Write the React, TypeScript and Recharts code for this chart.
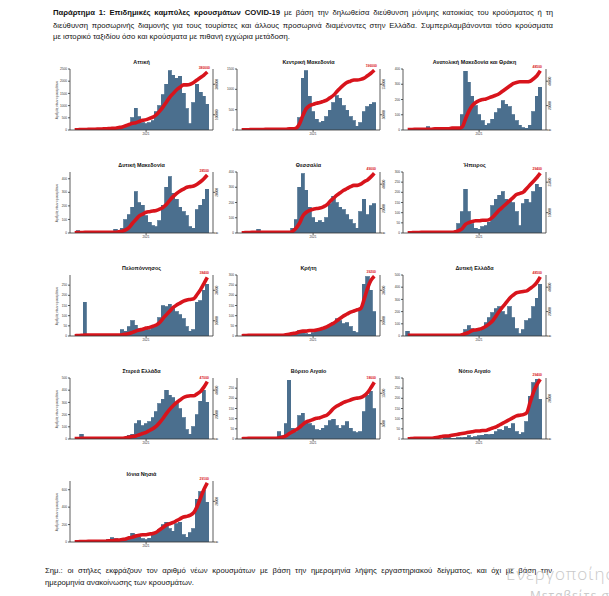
import React from 'react';
import { ComposedChart, Bar, Line, XAxis, YAxis } from 'recharts';

// half-month periods
const periods = [
  '2020-02b','2020-03a','2020-03b','2020-04a','2020-04b','2020-05a','2020-05b','2020-06a','2020-06b','2020-07a',
  '2020-07b','2020-08a','2020-08b','2020-09a','2020-09b','2020-10a','2020-10b','2020-11a','2020-11b','2020-12a',
  '2020-12b','2021-01a','2021-01b','2021-02a','2021-02b','2021-03a','2021-03b','2021-04a','2021-04b','2021-05a',
  '2021-05b','2021-06a','2021-06b','2021-07a','2021-07b','2021-08a','2021-08b','2021-09a','2021-09b','2021-10a',
];
const xTicks = ['2021-01a'];
const xTickLabels: Record<string, string> = { '2021-01a': '2021' };

const atticaDaily = [0,20,25,5,0,0,0,0,0,0,5,25,50,75,100,200,225,500,900,550,300,250,300,375,750,1000,1450,1875,2425,2250,2125,2200,1500,875,250,1125,1875,1550,1375,1050];
const atticaCum = [1000,2000,3000,3500,4000,4500,5000,6000,7000,8000,9000,11000,12000,16000,20000,28000,36000,44000,48000,56000,64000,68000,76000,84000,100000,124000,152000,184000,216000,240000,264000,280000,296000,296000,300000,312000,328000,344000,360000,380000];

const kmakDaily = [0,0,0,0,0,0,0,0,0,0,0,0,15,15,15,30,45,300,1275,1455,825,450,270,180,210,330,480,675,840,780,600,480,330,225,90,180,450,570,630,675];
const kmakCum = [500,800,1000,1200,1400,1600,1800,2000,2000,2000,2000,2000,2000,2000,4000,4000,6000,20000,48000,70000,80000,84000,88000,90000,94000,98000,106000,114000,126000,138000,148000,156000,160000,164000,164000,166000,170000,178000,186000,196000];

const amthDaily = [0,0,0,0,0,0,20,8,4,4,12,8,4,4,4,4,100,384,312,220,160,100,60,32,40,72,112,140,192,168,152,100,60,32,16,12,32,120,220,280];
const amthCum = [300,400,500,500,500,500,500,500,1000,1000,1000,1000,1000,1500,1500,1500,2500,9000,15500,20000,22500,24000,25000,25500,26500,27500,28500,30000,32000,34000,36000,38000,39000,39500,39500,39500,40000,42000,44500,48500];

const dmakDaily = [0,18,0,0,0,0,0,0,0,0,0,0,27,9,36,99,135,189,306,225,203,126,81,54,45,90,203,338,414,293,248,189,158,126,45,36,171,203,248,324];
const dmakCum = [150,200,250,300,300,300,300,300,300,300,300,300,300,600,900,1500,2700,4800,6600,8400,9300,10200,10500,10800,11100,11700,12600,14100,16200,18000,19500,20700,21600,22500,22800,23100,24000,25200,26700,28500];

const thesDaily = [0,0,0,0,0,24,0,0,4,0,0,4,4,4,12,32,88,300,388,280,168,100,72,80,72,100,192,240,200,168,152,120,88,60,32,140,220,120,180,192];
const thesCum = [200,300,400,500,500,500,500,500,500,500,500,500,500,500,500,1500,4000,8000,14000,17000,18500,19500,20000,20500,21500,23000,26000,28500,31000,33000,35000,36500,38000,39000,39000,40000,42000,43500,46000,49000];

const epirDaily = [0,0,0,0,0,0,0,0,0,0,0,3,0,3,9,45,105,216,105,45,24,18,30,36,54,135,165,186,204,165,156,150,105,36,144,165,150,204,240,225];
const epirCum = [100,150,200,250,300,300,300,300,300,300,300,300,300,300,600,1200,2100,4200,5100,5700,6000,6000,6300,6300,6600,7800,9600,11400,12900,14400,15900,17400,18900,19500,20100,21900,23700,25500,27300,29400];

const pelDaily = [0,0,0,165,0,0,0,0,0,0,0,0,0,3,30,24,45,75,54,36,30,36,30,42,48,90,150,144,156,135,120,105,84,45,24,30,165,174,225,255];
const pelCum = [200,300,400,600,600,600,600,600,600,600,600,600,600,600,800,1200,1600,2400,3200,4000,4400,5200,5600,6400,7200,8800,11600,14000,16400,18800,20400,21600,22800,23600,24000,24400,27200,30400,34400,38400];

const creDaily = [0,0,0,0,0,0,0,0,0,0,0,0,0,0,0,3,12,27,24,12,9,15,24,30,36,45,54,66,84,75,60,66,45,24,15,135,255,291,225,120];
const creCum = [200,300,400,400,400,400,400,400,400,400,400,400,400,800,1200,1600,2000,2800,3200,3200,3600,3600,4000,4400,5200,6000,7200,8400,10000,11600,13200,14400,15600,16400,17200,18000,24000,31200,36400,39200];

const dellDaily = [40,0,0,0,0,0,0,0,0,0,0,0,0,0,0,0,0,50,85,60,50,40,60,110,150,190,225,240,200,175,240,150,60,20,50,125,140,240,310,425];
const dellCum = [500,500,500,500,500,500,500,500,500,500,500,500,500,500,500,500,1000,2000,3000,4500,5000,5500,6500,8000,10000,12500,16500,20500,24000,27500,31000,33500,35500,36000,36500,37000,39000,41000,44000,48500];

const sterDaily = [0,0,40,10,0,0,0,0,0,0,0,0,0,0,0,10,30,40,125,150,110,125,140,175,225,290,325,400,360,340,300,250,175,75,40,100,200,310,400,300];
const sterCum = [300,400,500,500,500,500,500,500,500,500,500,500,500,500,500,1000,1500,2000,2500,3500,4500,5500,7000,8500,10500,13500,17000,21000,24500,27500,30000,32000,34000,35000,35500,35500,37000,39000,42500,47000];

const vaigDaily = [0,0,0,0,0,0,0,0,0,0,0,36,15,75,288,54,36,114,126,84,75,66,45,42,54,66,90,96,66,54,66,84,54,36,30,36,135,216,234,150];
const vaigCum = [100,150,200,200,200,200,200,200,200,200,200,400,600,1000,1800,2400,3000,3800,4800,5600,6000,6400,6800,7000,7400,7800,8800,10000,10800,11400,12000,12400,12800,13200,13400,13600,14200,15200,16800,18600];

const naigDaily = [0,0,0,0,0,0,0,0,0,0,0,12,15,3,3,6,6,9,15,9,12,15,18,24,21,24,36,45,42,60,54,75,36,24,30,84,210,276,294,195];
const naigCum = [100,200,300,300,300,300,300,300,600,900,1200,1500,1500,1800,2100,2400,2700,3000,3300,3600,3900,3900,4200,4200,4800,5400,6000,6900,7800,8700,9600,10500,11400,11700,12000,12900,18000,23100,26700,29400];

const ionDaily = [0,0,0,0,0,0,0,0,0,0,28,49,35,28,35,28,42,98,84,56,35,28,42,84,105,140,196,224,154,126,210,224,84,56,105,154,490,574,595,455];
const ionCum = [100,150,200,250,300,300,300,300,300,300,600,600,900,900,1200,1500,2100,2400,3000,3300,3600,3600,3900,4200,4800,6000,7200,8400,9000,9600,10500,11400,12300,12600,13200,14400,17400,21600,25800,29100];

const regionTitles = [
  'Αττική', 'Κεντρική Μακεδονία', 'Ανατολική Μακεδονία και Θράκη',
  'Δυτική Μακεδονία', 'Θεσσαλία', 'Ήπειρος',
  'Πελοπόννησος', 'Κρήτη', 'Δυτική Ελλάδα',
  'Στερεά Ελλάδα', 'Βόρειο Αιγαίο', 'Νότιο Αιγαίο',
  'Ιόνια Νησιά',
];

const panels = [
  { daily: atticaDaily, cum: atticaCum, dTop: 2500, dTicks: [0,500,1000,1500,2000,2500], cTop: 400000, cTicks: [0,100000,200000,300000] },
  { daily: kmakDaily, cum: kmakCum, dTop: 1500, dTicks: [0,500,1000,1500], cTop: 200000, cTicks: [0,50000,100000,150000] },
  { daily: amthDaily, cum: amthCum, dTop: 400, dTicks: [0,100,200,300,400], cTop: 50000, cTicks: [0,10000,20000,30000,40000] },
  { daily: dmakDaily, cum: dmakCum, dTop: 450, dTicks: [0,100,200,300,400], cTop: 30000, cTicks: [0,10000,20000] },
  { daily: thesDaily, cum: thesCum, dTop: 400, dTicks: [0,100,200,300,400], cTop: 50000, cTicks: [0,10000,20000,30000,40000] },
  { daily: epirDaily, cum: epirCum, dTop: 300, dTicks: [0,50,100,150,200,250,300], cTop: 30000, cTicks: [0,5000,10000,15000,20000,25000] },
  { daily: pelDaily, cum: pelCum, dTop: 300, dTicks: [0,50,100,150,200,250], cTop: 40000, cTicks: [0,10000,20000,30000] },
  { daily: creDaily, cum: creCum, dTop: 300, dTicks: [0,50,100,150,200,250,300], cTop: 40000, cTicks: [0,10000,20000,30000] },
  { daily: dellDaily, cum: dellCum, dTop: 500, dTicks: [0,100,200,300,400,500], cTop: 50000, cTicks: [0,10000,20000,30000,40000] },
  { daily: sterDaily, cum: sterCum, dTop: 500, dTicks: [0,100,200,300,400,500], cTop: 50000, cTicks: [0,10000,20000,30000,40000] },
  { daily: vaigDaily, cum: vaigCum, dTop: 300, dTicks: [0,50,100,150,200,250], cTop: 20000, cTicks: [0,5000,10000,15000] },
  { daily: naigDaily, cum: naigCum, dTop: 300, dTicks: [0,50,100,150,200,250,300], cTop: 30000, cTicks: [0,10000,20000] },
  { daily: ionDaily, cum: ionCum, dTop: 700, dTicks: [0,100,200,300,400,500,600], cTop: 30000, cTicks: [0,10000,20000] },
];

const colLeft = [70, 237, 403];
const rowTitle = [62, 165, 268, 371, 474];
const PLOT_W = 143;
const PLOT_H = 61;
const LEFT_W = 16;
const RIGHT_W = 14;
const XAX_H = 14;
const TOP_M = 8;
const PAD_L = 3;
const PAD_R = 4;
const BAND_W = (PLOT_W - PAD_L - PAD_R) / periods.length;
const BAR_COLOR = '#4b6f8e';
const LINE_COLOR = '#d8141c';
const FONT = '"Liberation Sans", Arial, sans-serif';

const RightTick = (props: any) => {
  const { x, y, payload } = props;
  const tx = x + 2;
  return (
    <text x={tx} y={y} transform={`rotate(-90 ${tx} ${y})`} textAnchor="middle" fontSize={3.2} fill="#333" fontFamily={FONT}>
      {payload.value}
    </text>
  );
};

// bar drawn across its whole band (histogram look), centred on the library's bar position
function BarShape(props: any) {
  const { x, y, width, height } = props;
  if (!height || height <= 0) return <g />;
  const cx = Number(x) + Number(width) / 2;
  return (
    <rect
      x={cx - BAND_W / 2}
      y={y}
      width={BAND_W}
      height={height}
      fill={BAR_COLOR}
      stroke={BAR_COLOR}
      strokeWidth={0.8}
      shapeRendering="crispEdges"
    />
  );
}

function Panel({ idx }: { idx: number }) {
  const p = panels[idx];
  const col = idx % 3;
  const row = Math.floor(idx / 3);
  const L = colLeft[col];
  const tY = rowTitle[row];
  const plotTop = tY + 7;
  const last = periods.length - 1;
  const data = periods.map((period, i) => ({ period, daily: p.daily[i], cum: p.cum[i] }));
  const endLabel = (lp: any) => {
    const x = lp.x ?? lp.viewBox?.x;
    const y = lp.y ?? lp.viewBox?.y;
    if (lp.index !== undefined ? lp.index !== last : lp.value !== p.cum[last]) return null;
    return (
      <text x={x - 3} y={y - 3} fontSize={3.4} fill={LINE_COLOR} fontWeight="bold" textAnchor="middle" fontFamily={FONT}>
        {p.cum[last]}
      </text>
    );
  };
  return (
    <>
      <div style={{ position: 'absolute', left: L, top: tY - 4, width: PLOT_W, textAlign: 'center', fontSize: 5.4, lineHeight: '8px', fontWeight: 'bold', whiteSpace: 'nowrap', color: '#111' }}>
        {regionTitles[idx]}
      </div>
      {col === 0 && (
        <div style={{ position: 'absolute', left: 57 - 30, top: plotTop + PLOT_H / 2 - 2, width: 60, textAlign: 'center', fontSize: 3.2, lineHeight: '4px', transform: 'rotate(-90deg)', color: '#333', whiteSpace: 'nowrap' }}>
          Αριθμός νέων κρουσμάτων
        </div>
      )}
      <div style={{ position: 'absolute', left: L - LEFT_W, top: plotTop - TOP_M }}>
        <ComposedChart
          width={PLOT_W + LEFT_W + RIGHT_W}
          height={PLOT_H + TOP_M + XAX_H}
          data={data}
          margin={{ top: TOP_M, right: 0, bottom: 0, left: 0 }}
          barCategoryGap="0%"
          barGap="0%"
        >
          <XAxis
            dataKey="period"
            ticks={xTicks}
            interval={0}
            tickFormatter={(v: string) => xTickLabels[v] ?? ''}
            tick={{ fontSize: 3.2, fill: '#333', fontFamily: FONT }}
            tickSize={2}
            tickMargin={1}
            padding={{ left: PAD_L, right: PAD_R }}
            height={XAX_H}
            stroke="#333"
            strokeWidth={0.8}
          />
          <YAxis
            yAxisId="left"
            domain={[0, p.dTop]}
            ticks={p.dTicks}
            allowDataOverflow
            width={LEFT_W}
            tick={{ fontSize: 3.2, fill: '#333', fontFamily: FONT }}
            tickSize={2}
            tickMargin={1}
            stroke="#333"
            strokeWidth={0.8}
          />
          <YAxis
            yAxisId="right"
            orientation="right"
            domain={[0, p.cTop]}
            ticks={p.cTicks}
            allowDataOverflow
            width={RIGHT_W}
            tick={<RightTick />}
            tickSize={2}
            tickMargin={1}
            stroke="#333"
            strokeWidth={0.8}
          />
          <Bar yAxisId="left" dataKey="daily" fill={BAR_COLOR} stroke={BAR_COLOR} strokeWidth={0.8} shape={<BarShape />} isAnimationActive={false} />
          <Line
            yAxisId="right"
            dataKey="cum"
            type="monotone"
            stroke={LINE_COLOR}
            strokeWidth={3.6}
            dot={false}
            isAnimationActive={false}
            label={endLabel}
          />
        </ComposedChart>
      </div>
    </>
  );
}

const justifyLine = (extra: React.CSSProperties): React.CSSProperties => ({
  position: 'absolute',
  fontSize: 7.7,
  lineHeight: '9.5px',
  textAlign: 'justify',
  textAlignLast: 'justify' as any,
  color: '#111',
  whiteSpace: 'nowrap',
  ...extra,
});

export default function App() {
  return (
    <div style={{ position: 'absolute', left: 0, top: 0, width: 609, height: 596, overflow: 'hidden', background: '#fff', fontFamily: FONT, color: '#111' }}>
      <div style={justifyLine({ left: 53, top: 8.3, width: 500 })}>
        <b>Παράρτημα 1: Επιδημικές καμπύλες κρουσμάτων COVID-19</b> με βάση την δηλωθείσα διεύθυνση μόνιμης κατοικίας του κρούσματος ή τη
      </div>
      <div style={justifyLine({ left: 53, top: 20.8, width: 500 })}>
        διεύθυνση προσωρινής διαμονής για τους τουρίστες και άλλους προσωρινά διαμένοντες στην Ελλάδα. Συμπεριλαμβάνονται τόσο κρούσματα
      </div>
      <div style={justifyLine({ left: 53, top: 32.3, textAlignLast: 'left' as any })}>
        με ιστορικό ταξιδίου όσο και κρούσματα με πιθανή εγχώρια μετάδοση.
      </div>

      {panels.map((_, i) => (
        <Panel key={i} idx={i} />
      ))}

      <div style={justifyLine({ left: 45, top: 566, width: 507 })}>
        Σημ.: οι στήλες εκφράζουν τον αριθμό νέων κρουσμάτων με βάση την ημερομηνία λήψης εργαστηριακού δείγματος, και όχι με βάση την
      </div>
      <div style={justifyLine({ left: 45, top: 578, textAlignLast: 'left' as any })}>
        ημερομηνία ανακοίνωσης των κρουσμάτων.
      </div>

      <div style={{ position: 'absolute', left: 506, top: 563, fontSize: 17, lineHeight: '22px', letterSpacing: 1, color: '#c9c9c9', whiteSpace: 'nowrap', fontFamily: '"Open Sans", sans-serif', fontWeight: 300 }}>
        Ενεργοποίηση των Windows
      </div>
      <div style={{ position: 'absolute', left: 530, top: 589, fontSize: 12, lineHeight: '14px', letterSpacing: 1, color: '#c9c9c9', whiteSpace: 'nowrap', fontFamily: '"Open Sans", sans-serif' }}>
        Μεταβείτε στις Ρυθμίσεις
      </div>
    </div>
  );
}
